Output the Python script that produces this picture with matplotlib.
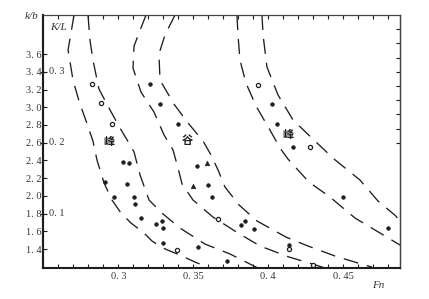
import matplotlib
matplotlib.use("Agg")
import matplotlib.pyplot as plt
import matplotlib.transforms as mtransforms
import numpy as np

# ---------------- data ----------------
# six dashed boundary curves (Fn, k/b)
curveA_fn = [0.2705, 0.2665, 0.2698, 0.2738, 0.2785, 0.2831, 0.2858, 0.2905, 0.2958, 0.3018,
             0.3085, 0.3171, 0.3225, 0.3298, 0.3425, 0.3511, 0.3578, 0.3611]
curveA_kb = [4.041, 3.646, 3.307, 3.070, 2.845, 2.619, 2.404, 2.145, 1.953, 1.806,
             1.693, 1.581, 1.490, 1.411, 1.321, 1.253, 1.208, 1.186]
curveB_fn = [0.2798, 0.2811, 0.2831, 0.2871, 0.2945, 0.3011, 0.3071, 0.3105, 0.3145, 0.3205,
             0.3291, 0.3411, 0.3578, 0.3745, 0.3891, 0.3931]
curveB_kb = [4.041, 3.759, 3.533, 3.206, 2.969, 2.766, 2.596, 2.495, 2.235, 1.953,
             1.806, 1.637, 1.456, 1.344, 1.219, 1.186]
curveC_fn = [0.3185, 0.3151, 0.3105, 0.3098, 0.3151, 0.3238, 0.3305, 0.3365, 0.3398, 0.3425,
             0.3498, 0.3631, 0.3798, 0.3945, 0.4138, 0.4318, 0.4378]
curveC_kb = [4.041, 3.894, 3.691, 3.442, 3.172, 2.946, 2.687, 2.517, 2.314, 2.134,
             1.953, 1.761, 1.581, 1.434, 1.310, 1.219, 1.186]
curveD_fn = [0.3378, 0.3311, 0.3271, 0.3278, 0.3371, 0.3465, 0.3565, 0.3618, 0.3665, 0.3711,
             0.3805, 0.3925, 0.4118, 0.4265, 0.4445, 0.4598, 0.4691]
curveD_kb = [4.041, 3.815, 3.601, 3.307, 3.036, 2.822, 2.619, 2.461, 2.292, 2.100,
             1.897, 1.716, 1.535, 1.434, 1.321, 1.242, 1.197]
curveE_fn = [0.3791, 0.3798, 0.3811, 0.3851, 0.3918, 0.4011, 0.4078, 0.4131, 0.4271, 0.4411,
             0.4578, 0.4778, 0.4878]
curveE_kb = [4.041, 3.815, 3.533, 3.274, 3.014, 2.743, 2.540, 2.416, 2.156, 1.987,
             1.750, 1.547, 1.445]
curveF_fn = [0.3958, 0.3965, 0.3991, 0.4065, 0.4165, 0.4311, 0.4438, 0.4611, 0.4731, 0.4851, 0.4878]
curveF_kb = [4.041, 3.815, 3.454, 3.138, 2.856, 2.619, 2.416, 2.179, 1.942, 1.772, 1.705]

# measured points
filled_fn = [0.3211, 0.3278, 0.3398, 0.4025, 0.4058, 0.4165, 0.4498, 0.4798, 0.4138,
             0.3031, 0.3071, 0.2911, 0.3058, 0.2971, 0.3105, 0.3111, 0.3151, 0.3251,
             0.3291, 0.3298, 0.3298, 0.3525, 0.3598, 0.3625, 0.3531, 0.3725, 0.3818,
             0.3845, 0.3905]
filled_kb = [3.262, 3.037, 2.811, 3.037, 2.811, 2.551, 1.987, 1.637, 1.445,
             2.382, 2.371, 2.156, 2.134, 1.987, 1.987, 1.908, 1.750, 1.682,
             1.716, 1.637, 1.468, 2.337, 2.122, 1.987, 1.423, 1.265, 1.671,
             1.716, 1.626]
open_fn = [0.2825, 0.2885, 0.2958, 0.3931, 0.4278, 0.3665, 0.3391, 0.4298, 0.4138]
open_kb = [3.262, 3.048, 2.811, 3.251, 2.551, 1.739, 1.389, 1.219, 1.400]
tri_fn = [0.3591, 0.3498]
tri_kb = [2.371, 2.111]

# region labels
region_text = ["峰", "谷", "峰"]
region_fn = [0.2938, 0.3458, 0.4131]
region_kb = [2.608, 2.630, 2.687]

# axes / ticks
x_major = [0.30, 0.35, 0.40, 0.45]
x_labels = ["0. 3", "0. 35", "0. 4", "0. 45"]
y_major = [1.4, 1.6, 1.8, 2.0, 2.2, 2.4, 2.6, 2.8, 3.0, 3.2, 3.4, 3.6]
kl_major = [0.1, 0.2, 0.3]
kl_right = [0.20, 0.22, 0.24, 0.26, 0.28, 0.30, 0.32, 0.34, 0.36]
xlim = (0.25, 0.4878)
ylim = (1.186, 4.041)

# ---------------- figure ----------------
W, H, DPI = 429, 299, 100
fig = plt.figure(figsize=(W / DPI, H / DPI), dpi=DPI)
ax = fig.add_axes([43.3 / W, 1 - 268 / H, (400 - 43.3) / W, (268 - 15) / H])

serif = ["Liberation Serif", "DejaVu Serif"]
ink = "#1e1e1e"

lw = 0.95
dash = (15 * 0.72 / lw, 9 * 0.72 / lw)
for fx, fy in [(curveA_fn, curveA_kb), (curveB_fn, curveB_kb), (curveC_fn, curveC_kb),
               (curveD_fn, curveD_kb), (curveE_fn, curveE_kb), (curveF_fn, curveF_kb)]:
    ax.plot(fx, fy, color=ink, lw=lw, linestyle=(0, dash), solid_capstyle="butt",
            dash_capstyle="butt", clip_on=True)

ax.plot(filled_fn, filled_kb, linestyle="none", marker="o", ms=2.6, mfc=ink, mec=ink, mew=0.5)
ax.plot(open_fn, open_kb, linestyle="none", marker="o", ms=3.0, mfc="white", mec=ink, mew=0.9)
ax.plot(tri_fn, tri_kb, linestyle="none", marker="^", ms=3.2, mfc=ink, mec=ink, mew=0.5)

for t, fx, fy in zip(region_text, region_fn, region_kb):
    ax.text(fx, fy, t, family=["Noto Sans CJK SC", "DejaVu Sans"], fontsize=8,
            fontweight="bold", ha="center", va="center", color=ink)

ax.set_xlim(*xlim)
ax.set_ylim(*ylim)

ax.set_xticks(x_major)
ax.set_xticklabels(x_labels)
ax.set_xticks(np.round(np.arange(0.26, 0.485, 0.01), 2), minor=True)
ax.set_yticks(y_major)
ax.set_yticklabels([f"{v:.1f}".replace(".", ". ") for v in y_major])

ax.tick_params(axis="both", which="both", direction="in", length=3, width=0.8,
               colors=ink, labelsize=7.5, top=True, right=False)
ax.tick_params(axis="x", which="both", pad=3)
ax.tick_params(axis="y", which="both", pad=1.5)
for lab in ax.get_xticklabels() + ax.get_yticklabels():
    lab.set_family(serif)
    lab.set_color("#333333")

for side in ["left", "bottom"]:
    ax.spines[side].set_linewidth(1.5)
    ax.spines[side].set_color(ink)
for side in ["top", "right"]:
    ax.spines[side].set_linewidth(0.9)
    ax.spines[side].set_color("#444444")


def kb_to_kl(v):
    return (np.asarray(v) - 1.0) / 8.0


def kl_to_kb(v):
    return np.asarray(v) * 8.0 + 1.0


sec_r = ax.secondary_yaxis("right", functions=(kb_to_kl, kl_to_kb))
sec_r.set_yticks(kl_right)
sec_r.tick_params(direction="in", length=3, width=0.8, labelright=False, colors=ink)
sec_r.spines["right"].set_linewidth(0.9)
sec_r.spines["right"].set_color("#444444")

sec_l = ax.secondary_yaxis("left", functions=(kb_to_kl, kl_to_kb))
sec_l.set_yticks(kl_major)
sec_l.tick_params(direction="inout", length=5, width=0.8, labelleft=False, colors=ink)
sec_l.spines["left"].set_linewidth(1.5)
sec_l.spines["left"].set_color(ink)

trans = mtransforms.blended_transform_factory(ax.transAxes, ax.transData)
for v in kl_major:
    ax.text(0.015, float(kl_to_kb(v)), f"{v:.1f}".replace(".", ". "), transform=trans,
            ha="left", va="center", family=serif, fontsize=7.5, color="#333333")

ax.text(-0.032, 0.996, "k/b", transform=ax.transAxes, ha="center", va="center",
        family=serif, style="italic", fontsize=8, color="#333333")
ax.text(0.044, 0.949, "K/L", transform=ax.transAxes, ha="center", va="center",
        family=serif, style="italic", fontsize=8, color="#333333")
ax.text(0.938, -0.071, "Fn", transform=ax.transAxes, ha="center", va="center",
        family=serif, style="italic", fontsize=8, color="#333333")

fig.savefig("out.png", dpi=DPI, facecolor="white")
